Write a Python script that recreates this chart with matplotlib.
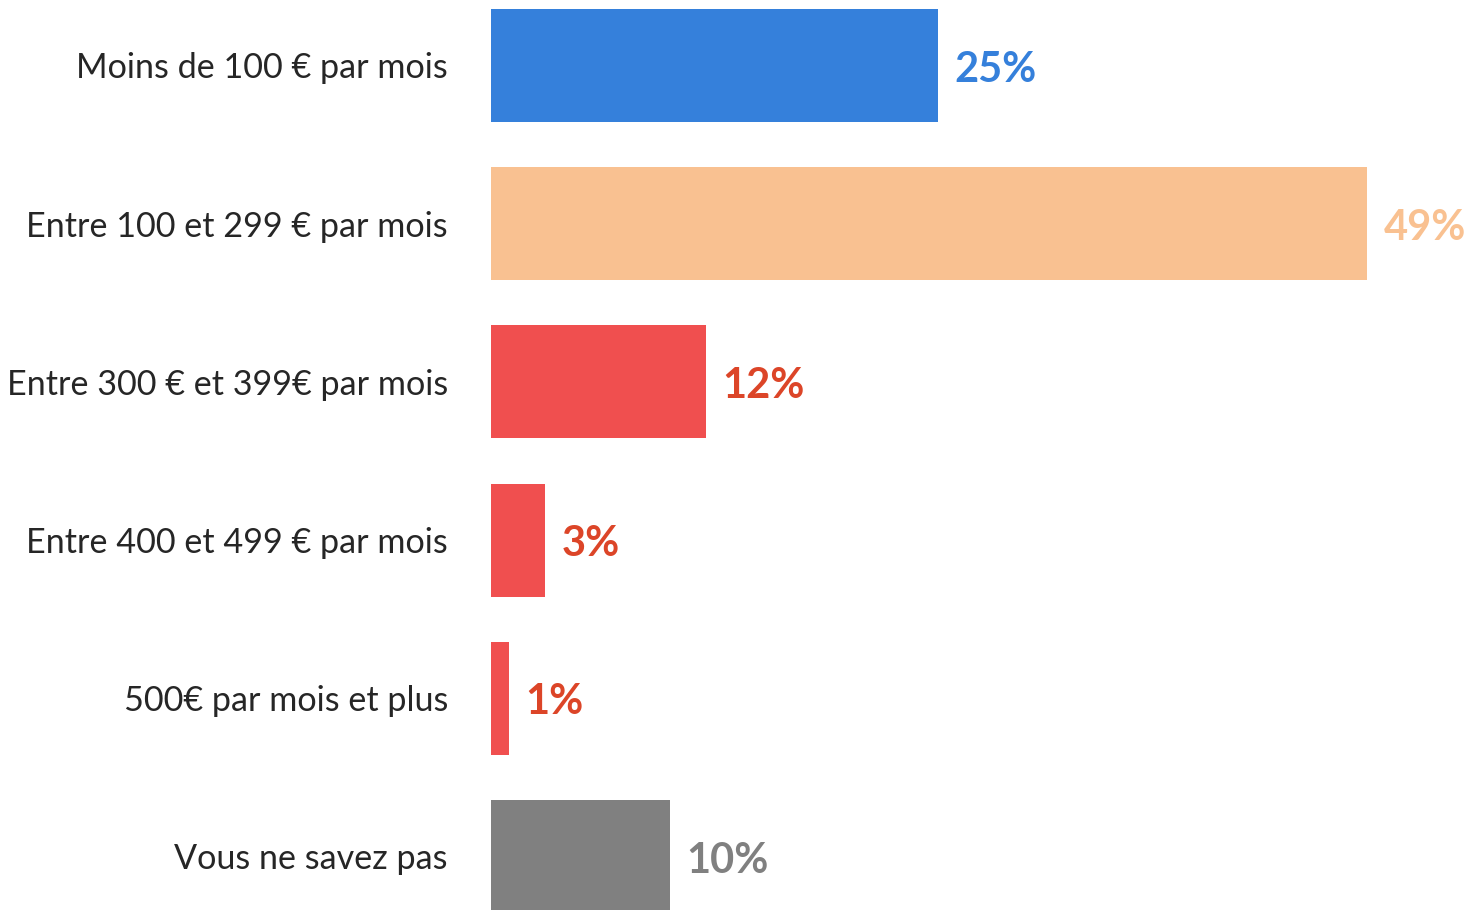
import matplotlib
matplotlib.use('Agg')
import matplotlib.pyplot as plt

categories = [
    'Moins de 100 € par mois',
    'Entre 100 et 299 € par mois',
    'Entre 300 € et 399€ par mois',
    'Entre 400 et 499 € par mois',
    '500€ par mois et plus',
    'Vous ne savez pas',
]
values = [25, 49, 12, 3, 1, 10]
bar_colors = ['#3580DB', '#F9C191', '#F04F4F', '#F04F4F', '#F04F4F', '#808080']
text_colors = ['#3580DB', '#F9C191', '#DC4528', '#DC4528', '#DC4528', '#808080']

plt.rcParams['font.family'] = ['Lato', 'DejaVu Sans']

W, H = 1473, 910
fig = plt.figure(figsize=(W / 100, H / 100), dpi=100)
left = 491 / W
ax = fig.add_axes([left, 0, 1 - left, 1])

pos = list(range(len(categories)))
ax.barh(pos, values, height=0.715, color=bar_colors)

# bars 158 px apart, first centre at 65 px from top
step = 158.2
ax.set_ylim((H - 65.5) / step, -65.5 / step)
ax.set_xlim(0, (W - 491) / 17.88)

for i, v in enumerate(values):
    ax.annotate(f'{v}%', xy=(v, i), xytext=(12, -3), textcoords='offset points',
                ha='left', va='center', fontsize=30, fontweight='bold',
                color=text_colors[i])

ax.set_yticks(pos)
ax.set_yticklabels(categories, fontsize=24.6, color='#262626')
ax.tick_params(axis='y', length=0, pad=31)
ax.set_xticks([])
for s in ax.spines.values():
    s.set_visible(False)

fig.savefig('out.png', dpi=100)
